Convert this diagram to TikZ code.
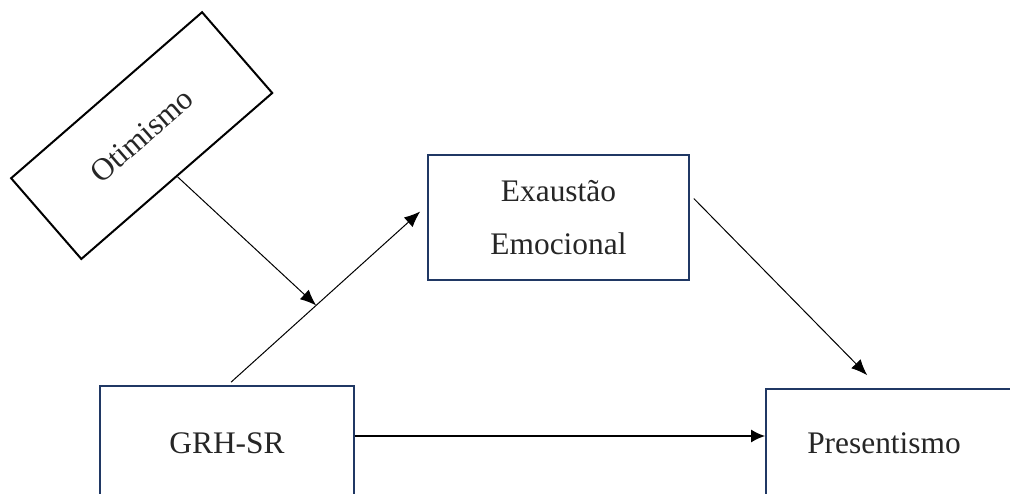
\documentclass[tikz,border=0pt]{standalone}
\usepackage{fontspec}
\setmainfont{Liberation Serif}
\usetikzlibrary{arrows.meta,calc}
\definecolor{navy}{HTML}{203864}
\definecolor{txt}{HTML}{262626}
\tikzset{
  navybox/.style={draw=navy, line width=1.6pt, text=txt, font=\fontsize{31.4}{53}\selectfont, inner sep=0pt},
  rotbox/.style={draw=black, line width=2pt, text=txt, font=\fontsize{31.4}{36}\selectfont, inner sep=0pt},
  thinarrow/.style={draw=black, line width=1pt, -{Latex[length=16pt,width=13pt]}},
  thickarrow/.style={draw=black, line width=2pt, -{Latex[length=14pt,width=13pt]}},
}
\begin{document}
\begin{tikzpicture}[x=1pt,y=-1pt]
\clip (0,0) rectangle (1010,493);
\fill[white] (0,0) rectangle (1010,493);
% nodes
\node[rotbox, minimum width=253pt, minimum height=107pt, rotate=41] (oti) at (141.7,135.6) {Otimismo};
\node[navybox, minimum width=261pt, minimum height=125pt, align=center] (exa) at (558.5,217.5) {Exaustão\\Emocional};
\node[navybox, minimum width=254pt, minimum height=114pt] (grh) at (227,443) {GRH-SR};
\node[navybox, minimum width=300pt, minimum height=108pt] (pres) at (916,443) {Presentismo\kern64pt\relax};
% connector end points
\coordinate (g1) at ($(grh.north)+(4,-3)$);
\coordinate (e1) at ($(exa.west)+(-7,-6)$);
\coordinate (m) at ($(g1)!0.45!(e1)$);
\coordinate (e2) at ($($(exa.north east)!0.35!(exa.south east)$)+(4,0)$);
\coordinate (p1) at ($(pres.north west)+(102,-13)$);
\coordinate (g2) at ($(grh.east)+(0,-7)$);
% connectors
\draw[thinarrow] (g1) -- (e1);
\draw[thinarrow] (oti.south) -- (m);
\draw[thinarrow] (e2) -- (p1);
\draw[thickarrow] (g2) -- (g2 -| pres.west);
\end{tikzpicture}
\end{document}
